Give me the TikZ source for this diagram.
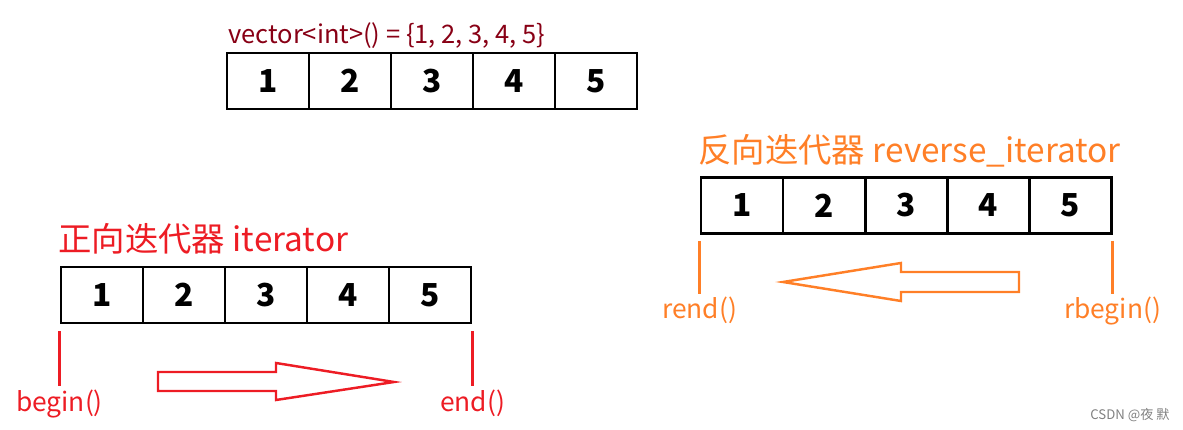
\documentclass[tikz,border=0pt]{standalone}
\usepackage{fontspec}
\setmainfont{Noto Sans CJK SC}
\usetikzlibrary{positioning}

\definecolor{paintred}{RGB}{237,28,36}
\definecolor{paintorange}{RGB}{255,127,39}
\definecolor{paintdarkred}{RGB}{136,0,21}

\tikzset{
    cell/.style={draw, line width=1.7pt, minimum width=1.64cm, minimum height=1.12cm,
        inner sep=0pt, font=\fontsize{18}{20}\selectfont\bfseries},
    mark line/.style={line width=1.5pt},
    block arrow/.style={line width=1.4pt, line join=miter}
}

\begin{document}
\begin{tikzpicture}
    \useasboundingbox (0,0) rectangle (23.66,8.6);

    % Vector
    \node[paintdarkred, anchor=base west, inner sep=0pt, font=\fontsize{14.5}{16}\selectfont]
        (vtitle) at (4.56,7.72) {vector<int>() = \{1, 2, 3, 4, 5\}};
    \foreach \i in {1,...,5}
        \node[cell] (v\i) at ({5.36+1.64*(\i-1)}, 6.98) {\i};

    % Iterator (Red)
    \node[paintred, anchor=base west, inner sep=0pt, font=\fontsize{19}{22}\selectfont]
        (ititle) at (1.16,3.56) {正向迭代器 iterator};
    \foreach \i in {1,...,5}
        \node[cell] (a\i) at ({2.04+1.64*(\i-1)}, 2.70) {\i};
    \draw[paintred, mark line] ([yshift=-0.14cm]a1.south west) -- ++(0,-1.1)
        node[below, inner sep=1pt, font=\fontsize{15}{18}\selectfont] (beginlbl) {begin()};
    \draw[paintred, mark line] ([yshift=-0.14cm]a5.south east) -- ++(0,-1.1)
        node[below, inner sep=1pt, font=\fontsize{15}{18}\selectfont] (endlbl) {end()};
    \draw[paintred, block arrow] (3.16,1.16) -- (5.52,1.16) -- (5.52,1.34) -- (7.88,0.96)
        -- (5.52,0.60) -- (5.52,0.78) -- (3.16,0.78) -- cycle;

    % Reverse iterator (Orange)
    \node[paintorange, anchor=base west, inner sep=0pt, font=\fontsize{19}{22}\selectfont]
        (rtitle) at (13.96,5.34) {反向迭代器 reverse\_iterator};
    \foreach \i in {1,...,5}
        \node[cell] (b\i) at ({14.84+1.64*(\i-1)}, 4.49) {\i};
    \draw[paintorange, mark line] ([yshift=-0.12cm]b1.south west) -- ++(0,-1.06)
        node[below, inner sep=1pt, font=\fontsize{15}{18}\selectfont] (rendlbl) {rend()};
    \draw[paintorange, mark line] ([yshift=-0.12cm]b5.south east) -- ++(0,-1.06)
        node[below, inner sep=1pt, font=\fontsize{15}{18}\selectfont] (rbeginlbl) {rbegin()};
    \draw[paintorange, block arrow] (20.38,3.16) -- (18.02,3.16) -- (18.02,3.34) -- (15.66,2.96)
        -- (18.02,2.58) -- (18.02,2.76) -- (20.38,2.76) -- cycle;

    % Watermark
    \node[gray, font=\fontsize{7.5}{9}\selectfont] (mark) at (22.6,0.3) {CSDN @夜 默};
\end{tikzpicture}
\end{document}
